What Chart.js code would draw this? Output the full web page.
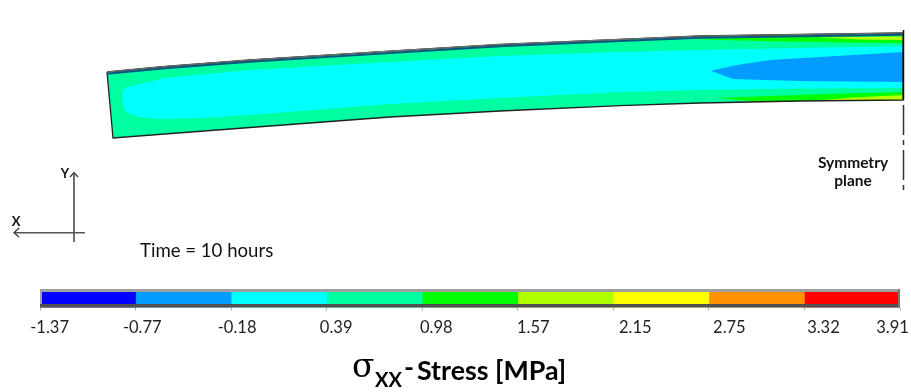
<!DOCTYPE html>
<html>
<head>
<meta charset="utf-8">
<style>
  html, body { margin: 0; padding: 0; background: #fff; }
  canvas { position: absolute; left: 0; }
  #field { top: 0; }
  #bar { top: 280px; }
</style>
<script src="https://cdn.jsdelivr.net/npm/chart.js@4/dist/chart.umd.min.js"></script>
</head>
<body>
<canvas id="field" width="911" height="285"></canvas>
<canvas id="bar" width="911" height="112"></canvas>
<script>
// Colour bar
const tickLabels = ['-1.37', '-0.77', '-0.18', '0.39', '0.98', '1.57', '2.15', '2.75', '3.32', '3.91'];
const bandColors = ['#0000ff', '#009cff', '#00ffff', '#00ffa0', '#00ff00', '#b0ff00', '#ffff00', '#ff9000', '#ff0000'];
const bandWidths = [1, 1, 1, 1, 1, 1, 1, 1, 1];

// Contour outlines (x to the right, y downward)
const bodyX = [107, 165, 250, 390, 500, 620, 700, 800, 903, 903, 800, 700, 620, 500, 390, 250, 113];
const bodyY = [72, 66.5, 60, 51.2, 44.5, 39.3, 36, 34.5, 33, 100, 101, 103, 105.7, 111, 117, 127.5, 138];

const cyanX = [122, 123, 127, 165, 250, 390, 500, 620, 700, 800, 903, 903, 800, 700, 620, 500, 390, 250, 200, 160, 140, 127, 123];
const cyanY = [97, 90, 87, 78, 70, 62, 56, 52, 50, 48, 46, 88, 88.5, 90, 92, 98, 104, 115, 118, 119, 117, 113, 106];

const blueX = [711, 737, 770, 820, 903, 903, 800, 733];
const blueY = [70.7, 65, 60, 57, 52, 82, 81, 79];

const greenTopX = [693, 787, 903, 903, 850, 787, 720];
const greenTopY = [39, 37, 36.5, 43, 42.5, 41.5, 40];
const limeTopX = [817, 903, 903, 860];
const limeTopY = [37.5, 36.5, 40, 39.5];

const greenLowX = [717, 770, 827, 903, 903, 800, 760];
const greenLowY = [98, 96, 94, 92, 100, 101, 102];
const limeLowX = [817, 853, 903, 903, 860];
const limeLowY = [100.5, 97.5, 95, 100, 100.5];

const topEdgeX = [107, 165, 250, 390, 500, 620, 700, 800, 903];
const topEdgeY = [72, 66.5, 60, 51.2, 44.5, 39.3, 36, 34.5, 33];

const planeX = [903.5, 903.5];
const planeY = [30, 100];
const planeDashY = [105, 190];

const axisYX = [74, 74];
const axisYY = [172.7, 242];
const axisXX = [85, 14];
const axisXY = [232.7, 232.7];
const headYX = [70, 74, 78];
const headYY = [177, 172.7, 177];
const headXX = [19, 14, 19];
const headXY = [228, 232.7, 237];

const toPoints = (xs, ys) => xs.map((x, i) => ({ x, y: ys[i] }));

const region = (xs, ys, color) => ({
  data: toPoints(xs, ys),
  fill: 'shape',
  backgroundColor: color,
  borderWidth: 0,
  pointRadius: 0,
  tension: 0,
});

const stroke = (xs, ys, color, width, dash) => ({
  data: toPoints(xs, ys),
  fill: false,
  borderColor: color,
  borderWidth: width,
  borderDash: dash || [],
  pointRadius: 0,
  tension: 0,
});

// Texts of the upper part
const fieldTexts = {
  id: 'fieldTexts',
  afterDatasetsDraw(chart) {
    const { ctx, scales: { x, y } } = chart;
    const put = (text, px, py, font, align) => {
      ctx.font = font;
      ctx.textAlign = align || 'left';
      ctx.fillStyle = '#111111';
      ctx.fillText(text, x.getPixelForValue(px), y.getPixelForValue(py));
    };
    ctx.save();
    ctx.textBaseline = 'alphabetic';
    put('Time = 10 hours', 140, 257, '18.6px Lato');
    put('Symmetry', 853, 168, 'bold 15.5px Lato', 'center');
    put('plane', 853, 186, 'bold 15.5px Lato', 'center');
    put('Y', 65, 178, 'bold 13px Lato', 'center');
    put('X', 16, 226, 'bold 13px Lato', 'center');
    ctx.restore();
  },
};

// Chart.js paints the first dataset last, so the list is reversed
new Chart(document.getElementById('field'), {
  type: 'line',
  data: {
    datasets: [
      region(bodyX, bodyY, '#00ffa0'),
      region(cyanX, cyanY, '#00ffff'),
      region(blueX, blueY, '#009cff'),
      region(greenTopX, greenTopY, '#00ff00'),
      region(limeTopX, limeTopY, '#b8ff00'),
      region(greenLowX, greenLowY, '#00ff00'),
      region(limeLowX, limeLowY, '#b8ff00'),
      stroke(bodyX.concat(bodyX[0]), bodyY.concat(bodyY[0]), '#222222', 1.3),
      stroke(topEdgeX, topEdgeY.map((v) => v + 1.8), '#0b5580', 2),
      stroke(topEdgeX, topEdgeY, '#707070', 1.2),
      stroke(planeX, planeY, '#111111', 1.5),
      stroke(planeX, planeDashY, '#333333', 1.5, [30, 5, 5, 5]),
      stroke(axisYX, axisYY, '#222222', 1.3),
      stroke(axisXX, axisXY, '#555555', 1.6),
      stroke(headYX, headYY, '#333333', 1.2),
      stroke(headXX, headXY, '#333333', 1.2),
    ].reverse(),
  },
  options: {
    responsive: false,
    animation: false,
    events: [],
    layout: { padding: 0 },
    plugins: { legend: { display: false }, tooltip: { enabled: false } },
    scales: {
      x: { type: 'linear', min: 0, max: 911, display: false },
      y: { type: 'linear', min: 0, max: 285, reverse: true, display: false },
    },
  },
  plugins: [fieldTexts],
});

// Tick labels are nudged from their ticks in the original
const labelShift = [9.6, 6.7, 6, 9.5, 14, 15.5, 22, 20.5, 19, -7.5];

// Bevelled frame, tick labels and the caption
const barDecor = {
  id: 'barDecor',
  afterDatasetsDraw(chart) {
    const { ctx, chartArea: a, scales: { x } } = chart;
    ctx.save();
    ctx.fillStyle = '#a0a0a0';
    ctx.fillRect(a.left, a.top, a.right - a.left, 3);
    ctx.fillRect(a.left, a.top, 2, a.bottom - a.top);
    ctx.fillStyle = '#505050';
    ctx.fillRect(a.left, a.bottom - 3.5, a.right - a.left, 3.5);
    ctx.fillStyle = '#787878';
    ctx.fillRect(a.right - 2, a.top, 2, a.bottom - a.top);

    ctx.fillStyle = '#222222';
    ctx.textBaseline = 'alphabetic';
    ctx.textAlign = 'center';
    ctx.font = '16.5px Lato';
    tickLabels.forEach((label, i) => {
      ctx.fillText(label, x.getPixelForValue(i) + labelShift[i], 52.7);
    });

    ctx.textAlign = 'left';
    ctx.fillStyle = '#000000';
    ctx.font = '33px "DejaVu Serif"';
    ctx.fillText('σ', 352, 96.5);
    ctx.font = 'bold 20px Lato';
    ctx.fillText('XX', 375, 107);
    ctx.font = 'bold 26.8px Lato';
    ctx.fillText('-', 404, 97);
    ctx.fillText('Stress [MPa]', 417, 100);
    ctx.restore();
  },
};

new Chart(document.getElementById('bar'), {
  type: 'bar',
  data: {
    labels: ['band'],
    datasets: bandWidths.map((w, i) => ({
      data: [w],
      backgroundColor: bandColors[i],
      borderWidth: 0,
      categoryPercentage: 1,
      barPercentage: 1,
    })),
  },
  options: {
    indexAxis: 'y',
    responsive: false,
    animation: false,
    events: [],
    layout: { padding: { left: 40, right: 11, top: 9, bottom: 81.5 } },
    plugins: { legend: { display: false }, tooltip: { enabled: false } },
    scales: {
      x: {
        type: 'linear',
        stacked: true,
        min: 0,
        max: 9,
        afterBuildTicks(scale) {
          scale.ticks = tickLabels.map((_, i) => ({ value: i }));
        },
        border: { display: false },
        grid: { drawOnChartArea: false, drawTicks: true, tickLength: 3, color: '#aaaaaa' },
        ticks: { display: false },
      },
      y: { stacked: true, display: false },
    },
  },
  plugins: [barDecor],
});
</script>
</body>
</html>
